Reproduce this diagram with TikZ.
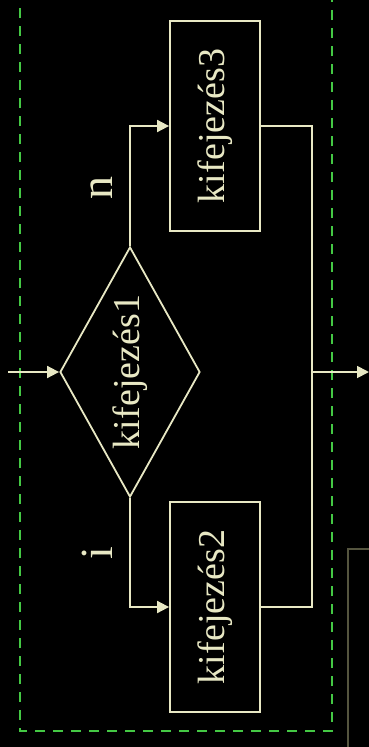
\documentclass[tikz,border=0pt]{standalone}
\usepackage{fontspec}
\setmainfont{Liberation Serif}
\usepackage{tikz}
\usetikzlibrary{positioning,shapes.geometric,arrows.meta}

\definecolor{cream}{HTML}{E8E8C4}
\definecolor{frgreen}{HTML}{44C844}
\definecolor{dimgr}{HTML}{55553F}

\tikzset{
  expr/.style={draw=cream, line width=1.8pt, text=cream, minimum width=90pt, minimum height=210pt, inner sep=0pt},
  decide/.style={draw=cream, line width=1.8pt, text=cream, diamond, aspect=0.56, minimum width=140pt, minimum height=250pt, inner sep=0pt},
  flow/.style={draw=cream, line width=1.8pt},
  tip/.style={-{Triangle[length=12pt,width=12pt]}},
  lbl/.style={text=cream, rotate=90, anchor=base, inner sep=0pt, font=\fontsize{46}{48}\selectfont},
  frame/.style={draw=frgreen, line width=2.5pt, dash pattern=on 10pt off 8pt}
}

\begin{document}
\begin{tikzpicture}[x=1pt, y=-1pt, on grid, font=\fontsize{38}{40}\selectfont]
  \fill[black] (0,0) rectangle (369,747);
  \useasboundingbox (0,0) rectangle (369,747);

  % the frame round the branch
  \draw[frame] (20,-10) -- (20,731) -- (332,731) -- (332,-10);
  \draw[dimgr, line width=1.5pt] (348,760) |- (380,549);

  \node[decide] (dec) at (130,372) {\rotatebox{90}{kifejezés1}};
  \node[expr, above right=246pt and 85pt of dec] (e3) {\rotatebox{90}{kifejezés3}};
  \node[expr, below right=235pt and 85pt of dec] (e2) {\rotatebox{90}{kifejezés2}};

  \node[lbl] (n) at (112,188) {n};
  \node[lbl] (i) at (112,553) {i};

  \coordinate (in) at (8,372);
  \coordinate (join) at (312,372);
  \coordinate (out) at (369,372);

  \draw[flow, tip] (in) -- (dec.west);
  \draw[flow, tip] (dec.north) |- (e3.west);
  \draw[flow, tip] (dec.south) |- (e2.west);
  \draw[flow] (e3.east) -| (join) |- (e2.east);
  \draw[flow, tip] (join) -- (out);
\end{tikzpicture}
\end{document}
